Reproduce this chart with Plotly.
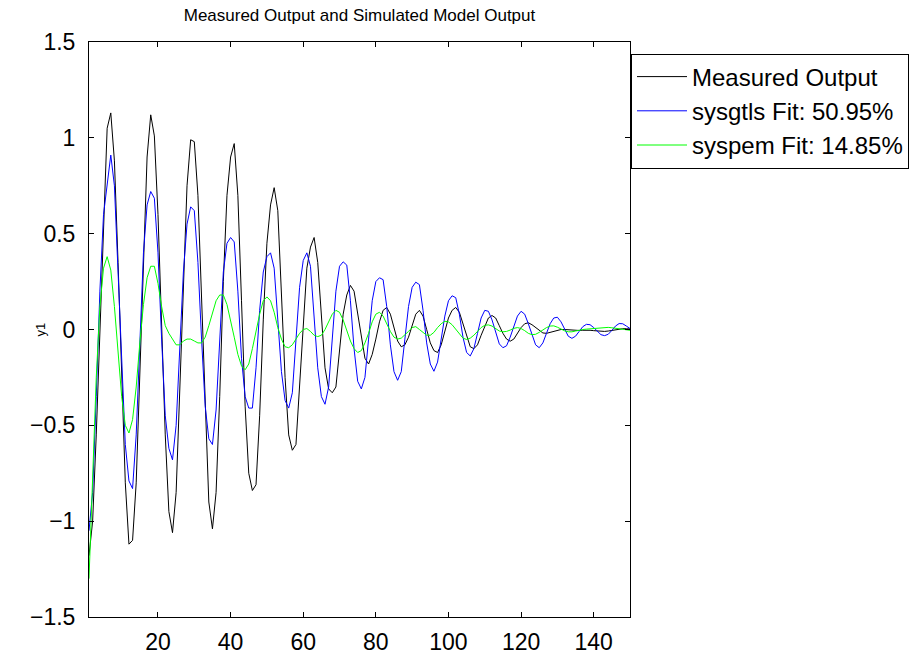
import plotly.graph_objects as go

samples = list(range(1, 151))

measured = [
    -1.18, -1.00, -0.55, 0.02, 0.58, 1.05, 1.13, 0.88, 0.35, -0.25,
    -0.80, -1.12, -1.10, -0.80, -0.25, 0.35, 0.90, 1.12, 1.01, 0.60,
    0.02, -0.55, -0.95, -1.06, -0.85, -0.35, 0.25, 0.75, 0.99, 0.98,
    0.70, 0.15, -0.45, -0.90, -1.04, -0.85, -0.35, 0.25, 0.70, 0.90,
    0.97, 0.70, 0.15, -0.40, -0.75, -0.84, -0.81, -0.45, 0.05, 0.45,
    0.65, 0.74, 0.62, 0.20, -0.25, -0.55, -0.63, -0.60, -0.30, 0.05,
    0.32, 0.43, 0.48, 0.35, 0.05, -0.20, -0.31, -0.33, -0.30, -0.12,
    0.08, 0.18, 0.23, 0.20, 0.08, -0.05, -0.15, -0.18, -0.13, -0.05,
    0.04, 0.10, 0.115, 0.08, 0.01, -0.06, -0.09, -0.08, -0.04, 0.02,
    0.08, 0.10, 0.07, 0.00, -0.07, -0.11, -0.12, -0.08, -0.01, 0.06,
    0.10, 0.115, 0.09, 0.03, -0.04, -0.09, -0.10, -0.08, -0.03, 0.02,
    0.06, 0.073, 0.06, 0.02, -0.02, -0.05, -0.061, -0.05, -0.02, 0.01,
    0.03, 0.035, 0.025, 0.01, -0.005, -0.018, -0.02, -0.015, -0.008, -0.002,
    0.0, 0.0, -0.002, -0.004, -0.005, -0.005, -0.004, -0.003, -0.004, -0.006,
    -0.008, -0.01, -0.01, -0.008, -0.004, 0.0, 0.003, 0.004, 0.004, 0.003,
]

sysgtls = [
    -1.05, -0.85, -0.35, 0.20, 0.60, 0.77, 0.91, 0.75, 0.30, -0.20,
    -0.60, -0.79, -0.83, -0.55, -0.05, 0.40, 0.65, 0.72, 0.685, 0.40,
    -0.05, -0.45, -0.62, -0.68, -0.50, -0.10, 0.30, 0.55, 0.64, 0.62,
    0.35, -0.05, -0.40, -0.57, -0.60, -0.42, -0.05, 0.30, 0.45, 0.48,
    0.457, 0.20, -0.15, -0.35, -0.41, -0.41, -0.20, 0.10, 0.30, 0.38,
    0.40, 0.32, 0.05, -0.22, -0.37, -0.41, -0.33, -0.05, 0.22, 0.36,
    0.40, 0.33, 0.08, -0.20, -0.35, -0.39, -0.30, -0.05, 0.20, 0.33,
    0.353, 0.336, 0.15, -0.10, -0.27, -0.31, -0.25, -0.05, 0.15, 0.25,
    0.27, 0.26, 0.12, -0.08, -0.22, -0.265, -0.22, -0.05, 0.12, 0.22,
    0.247, 0.234, 0.10, -0.07, -0.18, -0.218, -0.17, -0.05, 0.07, 0.15,
    0.176, 0.166, 0.08, -0.04, -0.12, -0.138, -0.10, -0.02, 0.06, 0.10,
    0.095, 0.05, -0.02, -0.075, -0.095, -0.085, -0.04, 0.02, 0.07, 0.095,
    0.08, 0.03, -0.03, -0.08, -0.095, -0.07, -0.02, 0.03, 0.06, 0.064,
    0.04, 0.0, -0.035, -0.046, -0.035, -0.01, 0.015, 0.027, 0.025, 0.01,
    -0.01, -0.027, -0.032, -0.025, -0.005, 0.018, 0.031, 0.03, 0.018, 0.005,
]

syspem = [
    -1.30, -0.75, -0.25, 0.12, 0.32, 0.38, 0.31, 0.12, -0.12, -0.35,
    -0.50, -0.54, -0.47, -0.30, -0.07, 0.13, 0.27, 0.33, 0.33, 0.24,
    0.12, 0.02, -0.02, -0.05, -0.08, -0.08, -0.06, -0.05, -0.05, -0.06,
    -0.07, -0.07, -0.04, 0.02, 0.09, 0.15, 0.18, 0.18, 0.13, 0.05,
    -0.04, -0.13, -0.19, -0.21, -0.18, -0.10, -0.01, 0.08, 0.15, 0.17,
    0.15, 0.09, 0.01, -0.05, -0.09, -0.095, -0.08, -0.05, -0.02, 0.0,
    0.005, -0.01, -0.03, -0.037, -0.03, 0.0, 0.04, 0.08, 0.10, 0.09,
    0.05, -0.01, -0.06, -0.10, -0.12, -0.11, -0.07, -0.02, 0.04, 0.08,
    0.09, 0.07, 0.03, -0.01, -0.04, -0.05, -0.045, -0.03, -0.01, 0.01,
    0.015, 0.0, -0.015, -0.03, -0.03, -0.015, 0.01, 0.03, 0.043, 0.04,
    0.025, 0.0, -0.025, -0.045, -0.052, -0.045, -0.03, -0.01, 0.01, 0.022,
    0.024, 0.018, 0.005, -0.008, -0.012, -0.01, -0.003, 0.006, 0.01, 0.005,
    -0.006, -0.02, -0.027, -0.025, -0.015, -0.002, 0.01, 0.018, 0.019, 0.012,
    0.002, -0.007, -0.012, -0.012, -0.008, -0.003, 0.0, 0.002, 0.004, 0.006,
    0.008, 0.01, 0.011, 0.011, 0.009, 0.006, 0.002, -0.001, -0.003, -0.004,
]

series_names = ["Measured Output", "sysgtls Fit: 50.95%", "syspem Fit: 14.85%"]
series_colors = ["#000000", "#0000ff", "#00ff00"]

x_ticks = [20, 40, 60, 80, 100, 120, 140]
y_ticks = [-1.5, -1, -0.5, 0, 0.5, 1, 1.5]

FONT = "Liberation Sans, Arial, Helvetica, sans-serif"

W, H = 922, 667
L, R, T, B = 89, 292, 42, 34
plot_w = W - L - R

fig = go.Figure()
for name, ys, col in zip(series_names, [measured, sysgtls, syspem], series_colors):
    fig.add_trace(go.Scatter(x=samples, y=ys, mode="lines", name=name,
                             line=dict(color=col, width=1)))

axis_common = dict(showline=True, linecolor="black", linewidth=1, mirror="allticks",
                   ticks="inside", ticklen=5, tickcolor="black", showgrid=False,
                   zeroline=False, tickfont=dict(family=FONT, size=23, color="black"))

fig.update_layout(
    width=W, height=H,
    margin=dict(l=L, r=R, t=T, b=B),
    paper_bgcolor="white", plot_bgcolor="white",
    font=dict(family=FONT, color="black"),
    title=dict(text="Measured Output and Simulated Model Output",
               font=dict(family=FONT, size=17, color="black"),
               x=(L + plot_w / 2) / W, xanchor="center", y=1 - 15 / H, yanchor="middle"),
    xaxis=dict(range=[1, 150], tickvals=x_ticks, ticklabelstandoff=4, **axis_common),
    yaxis=dict(range=[-1.5, 1.5], tickvals=y_ticks, ticklabelstandoff=8, **axis_common),
    legend=dict(x=1 + 1 / plot_w, xanchor="left", y=0.98, yanchor="top",
                bordercolor="black", borderwidth=1, bgcolor="white",
                font=dict(family=FONT, size=24, color="black"),
                itemwidth=50, tracegroupgap=0, entrywidth=280, entrywidthmode="pixels"),
    showlegend=True,
    annotations=[dict(text="y1", xref="paper", yref="paper",
                      x=(40 - L) / plot_w, y=0.5, xanchor="center", yanchor="middle",
                      textangle=-90, showarrow=False,
                      font=dict(family=FONT, size=13, color="black"))],
)

fig.write_html("out.html", config={"displayModeBar": False},
               post_script="document.body.style.margin='0';document.body.style.overflow='hidden';")
